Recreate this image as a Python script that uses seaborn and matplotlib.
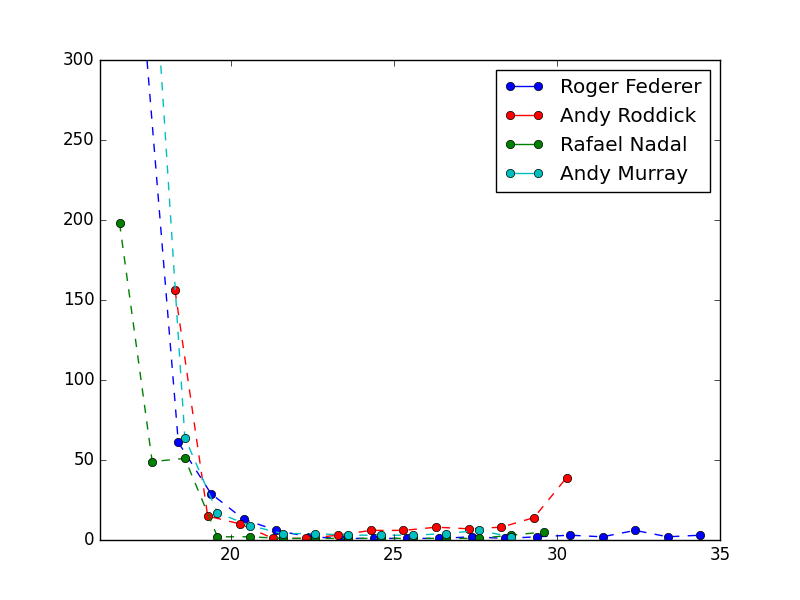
import matplotlib
matplotlib.use("Agg")
import matplotlib.pyplot as plt
from matplotlib.lines import Line2D
import seaborn as sns

plt.style.use("classic")

federer_x = [17.4, 18.4, 19.4, 20.4, 21.4, 22.4, 23.4, 24.4, 25.4, 26.4, 27.4, 28.4, 29.4, 30.4, 31.4, 32.4, 33.4, 34.4]
federer_y = [310, 61, 29, 13, 6, 2, 1, 1, 1, 1, 2, 1, 2, 3, 2, 6, 2, 3]
roddick_x = [18.3, 19.3, 20.3, 21.3, 22.3, 23.3, 24.3, 25.3, 26.3, 27.3, 28.3, 29.3, 30.3]
roddick_y = [156, 15, 10, 1, 1, 3, 6, 6, 8, 7, 8, 14, 39]
nadal_x = [16.6, 17.6, 18.6, 19.6, 20.6, 21.6, 22.6, 23.6, 24.6, 25.6, 26.6, 27.6, 28.6, 29.6]
nadal_y = [198, 49, 51, 2, 2, 1, 1, 1, 1, 1, 1, 1, 3, 5]
murray_x = [17.6, 18.6, 19.6, 20.6, 21.6, 22.6, 23.6, 24.6, 25.6, 26.6, 27.6, 28.6]
murray_y = [380, 64, 17, 9, 4, 4, 3, 3, 3, 4, 6, 2]

series = [("Roger Federer", federer_x, federer_y, "b"),
          ("Andy Roddick", roddick_x, roddick_y, "r"),
          ("Rafael Nadal", nadal_x, nadal_y, "g"),
          ("Andy Murray", murray_x, murray_y, "c")]

fig, ax = plt.subplots(figsize=(8, 6), dpi=100)
handles = []
for name, xs, ys, c in series:
    sns.lineplot(x=xs, y=ys, ax=ax, color=c, linestyle="--", marker="o",
                 markersize=6, markeredgecolor="k", markeredgewidth=0.5, linewidth=1)
    handles.append(Line2D([], [], color=c, marker="o", markeredgecolor="k",
                          markeredgewidth=0.5, linewidth=1))

ax.set_xlim(16, 35)
ax.set_ylim(0, 300)
ax.legend(handles, [s[0] for s in series], loc="upper right", numpoints=2)
fig.savefig("out.png", dpi=100)
